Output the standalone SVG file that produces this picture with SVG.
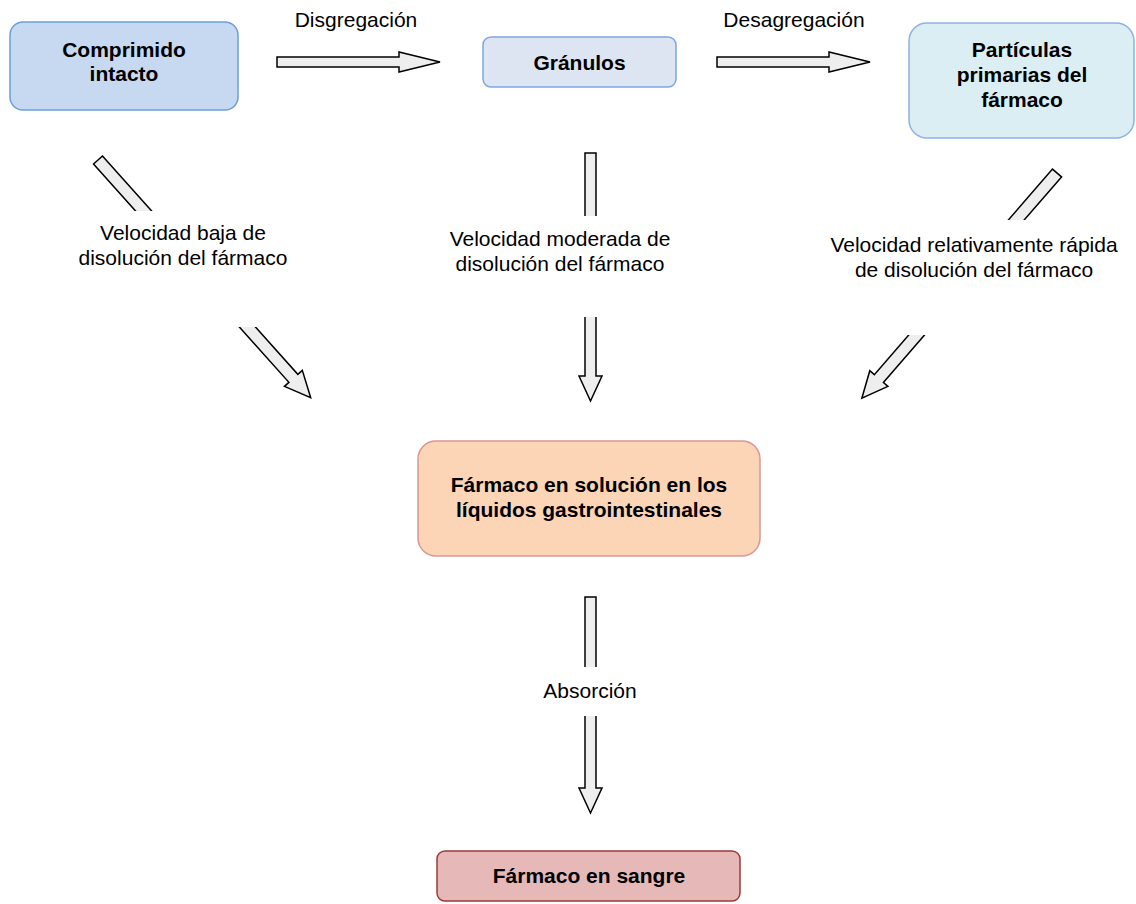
<svg xmlns="http://www.w3.org/2000/svg" width="1136" height="904" viewBox="0 0 1136 904">
  <style>
    .node text { font-family: "Liberation Sans", Arial, sans-serif; font-size: 21px; font-weight: bold; fill: #000; text-anchor: middle; }
    .lbl { font-family: "Liberation Sans", Arial, sans-serif; font-size: 21px; fill: #000; text-anchor: middle; }
    .arrow { fill: #eeeeee; stroke: #000; stroke-width: 1.5; stroke-linejoin: miter; }
    .lblbg { fill: #ffffff; stroke: none; }
    .blue1 { fill: #c6d9f1; stroke: #6c9fdc; stroke-width: 1.5; }
    .blue2 { fill: #dce5f1; stroke: #7ea6e0; stroke-width: 1.5; }
    .blue3 { fill: #dbeef4; stroke: #8db3e2; stroke-width: 1.5; }
    .peach { fill: #fbd5b5; stroke: #d99694; stroke-width: 1.5; }
    .rose  { fill: #e6b9b8; stroke: #9b3b37; stroke-width: 1.5; }
  </style>

  <!-- block arrows and their labels -->
  <g id="connectors">
    <!-- Comprimido -> Gránulos -->
    <polygon class="arrow" points="277,57 399,57 399,52 440,62 399,72 399,67 277,67"/>
    <text class="lbl" x="356" y="27">Disgregación</text>

    <!-- Gránulos -> Partículas -->
    <polygon class="arrow" points="717,57 829,57 829,52 870,62 829,72 829,67 717,67"/>
    <text class="lbl" x="794" y="27">Desagregación</text>

    <!-- Comprimido -> solución -->
    <polygon class="arrow" transform="translate(98,160) rotate(48.18)" points="0,-6 293,-6 293,-12 319,0 293,12 293,6 0,6"/>
    <rect class="lblbg" x="110" y="211" width="160" height="116"/>
    <text class="lbl" x="183" y="240">Velocidad baja de</text>
    <text class="lbl" x="183" y="265">disolución del fármaco</text>

    <!-- Gránulos -> solución -->
    <polygon class="arrow" points="585,153 596,153 596,376 602,376 590.5,401 579,376 585,376"/>
    <rect class="lblbg" x="575" y="216" width="32" height="101"/>
    <text class="lbl" x="560" y="246">Velocidad moderada de</text>
    <text class="lbl" x="560" y="271">disolución del fármaco</text>

    <!-- Partículas -> solución -->
    <polygon class="arrow" transform="translate(1057,173) rotate(130.91)" points="0,-6 272,-6 272,-12 298,0 272,12 272,6 0,6"/>
    <rect class="lblbg" x="905" y="220" width="125" height="115"/>
    <text class="lbl" x="974" y="252">Velocidad relativamente rápida</text>
    <text class="lbl" x="974" y="277">de disolución del fármaco</text>

    <!-- solución -> sangre -->
    <polygon class="arrow" points="585,597 596,597 596,788 602,788 590.5,813 579,788 585,788"/>
    <rect class="lblbg" x="575" y="667" width="32" height="49"/>
    <text class="lbl" x="590" y="698">Absorción</text>
  </g>

  <g id="comprimido" class="node">
    <rect class="blue1" x="10" y="22" width="228" height="88" rx="13"/>
    <text x="124" y="57">Comprimido</text>
    <text x="124" y="81">intacto</text>
  </g>

  <g id="granulos" class="node">
    <rect class="blue2" x="483" y="37" width="193" height="50" rx="8"/>
    <text x="579.5" y="70">Gránulos</text>
  </g>

  <g id="particulas" class="node">
    <rect class="blue3" x="909" y="23" width="225" height="115" rx="18"/>
    <text x="1022" y="57">Partículas</text>
    <text x="1022" y="82">primarias del</text>
    <text x="1022" y="107">fármaco</text>
  </g>

  <g id="solucion" class="node">
    <rect class="peach" x="418" y="441" width="342" height="115" rx="18"/>
    <text x="589" y="492">Fármaco en solución en los</text>
    <text x="589" y="517">líquidos gastrointestinales</text>
  </g>

  <g id="sangre" class="node">
    <rect class="rose" x="437" y="851" width="303" height="50" rx="8"/>
    <text x="589" y="883">Fármaco en sangre</text>
  </g>
</svg>
